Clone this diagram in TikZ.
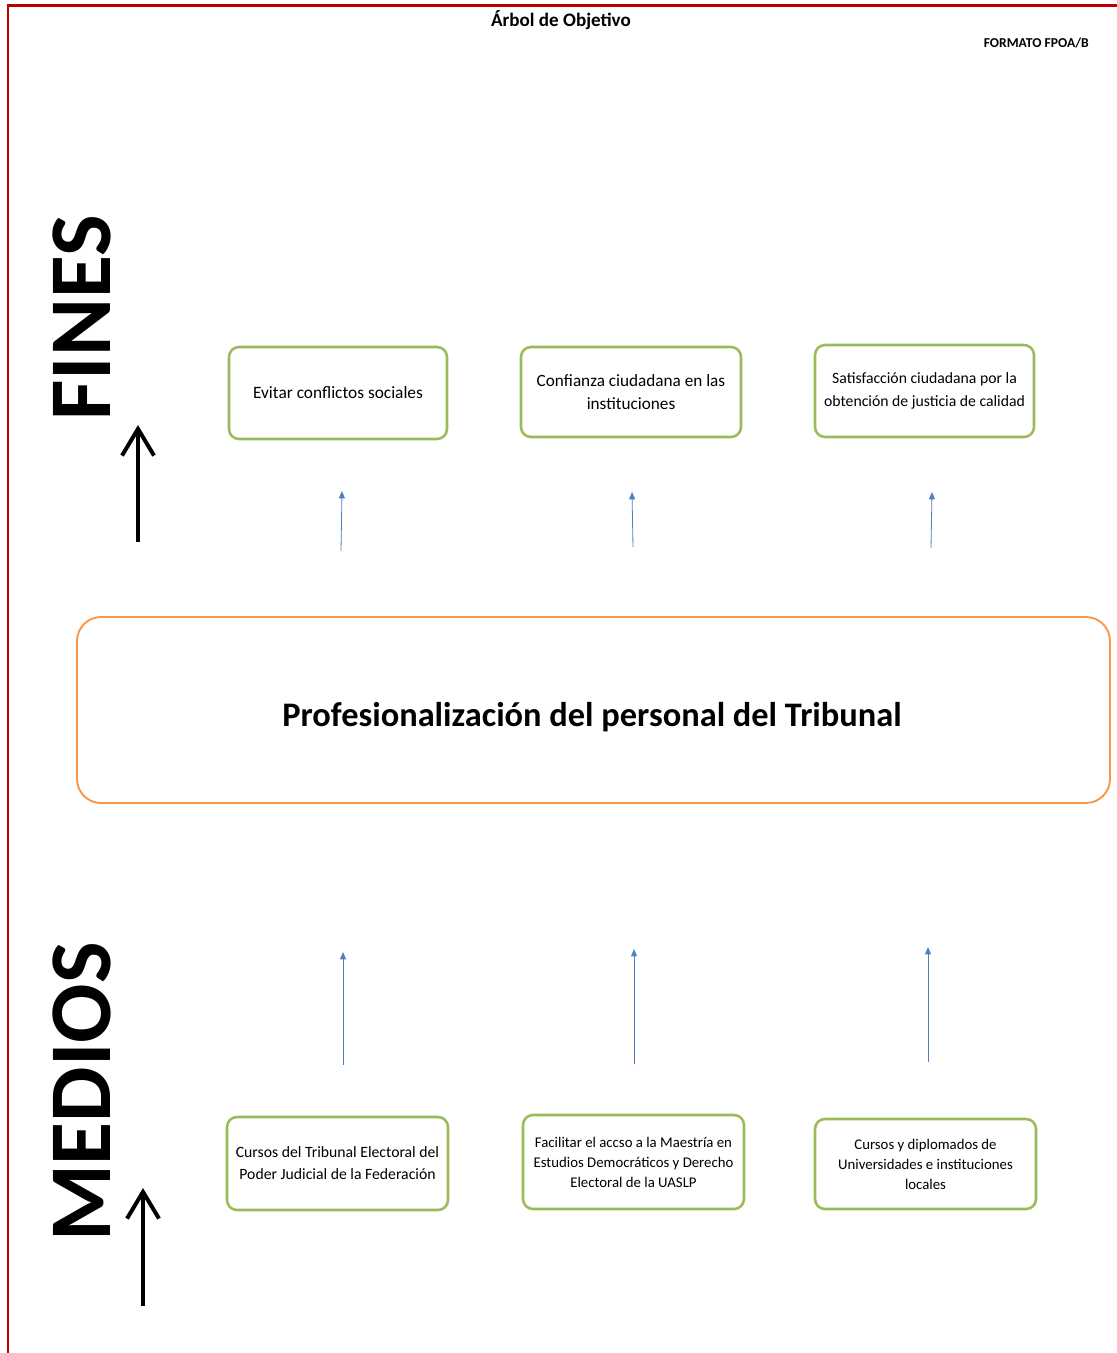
\documentclass[tikz,border=0pt]{standalone}
\usepackage{fontspec}
\setmainfont{Carlito}
\usetikzlibrary{arrows.meta}
\definecolor{redline}{HTML}{C00000}
\definecolor{boxgreen}{HTML}{9BBB59}
\definecolor{boxorange}{HTML}{F79646}
\definecolor{arrowblue}{HTML}{4F81BD}
\tikzset{
  px/.style={x=0.75pt,y=-0.75pt},
  greenbox/.style={draw=boxgreen,line width=1.9pt,rounded corners=7.5pt,fill=white,align=center,inner sep=0pt},
  orangebox/.style={draw=boxorange,line width=1.4pt,rounded corners=18pt,fill=white,align=center,inner sep=0pt},
  bluearrow/.style={draw=arrowblue,line width=0.6pt,-{Triangle[length=5.5pt,width=4.5pt]}},
  blackarrow/.style={draw=black,line width=3pt,-{Straight Barb[length=20pt,width=24pt,line width=3pt]}},
  sidelabel/.style={rotate=90,font=\fontsize{66}{70}\selectfont\bfseries,inner sep=0pt},
}
\begin{document}
\begin{tikzpicture}[px]
\useasboundingbox[fill=white] (0,0) rectangle (1117,1353);
% frame
\draw[redline,line width=2.6pt] (7,5.5) -- (1117,5.5);
\draw[redline,line width=1.5pt] (7.5,5) -- (7.5,1353);
% headings
\node[font=\fontsize{14.3}{16}\selectfont\bfseries] (title) at (561,20) {Árbol de Objetivo};
\node[font=\fontsize{10.2}{12}\selectfont\bfseries,anchor=east,inner sep=0pt] (formato) at (1089,43) {FORMATO FPOA/B};
% side labels
\node[sidelabel] (fines) at (82,318) {FINES};
\node[sidelabel] (medios) at (82,1092) {MEDIOS};
\coordinate (fa1) at (138,542); \coordinate (fa2) at (138,425);
\coordinate (ma1) at (143,1306); \coordinate (ma2) at (143,1188);
\draw[blackarrow] (fa1) -- (fa2);
\draw[blackarrow] (ma1) -- (ma2);
% fines
\node[greenbox,minimum width=218*0.75pt,minimum height=92*0.75pt,font=\fontsize{13}{17.25}\selectfont] (f1) at (338,393) {Evitar conflictos sociales};
\node[greenbox,minimum width=220*0.75pt,minimum height=90*0.75pt,font=\fontsize{12.9}{17.25}\selectfont] (f2) at (631,392) {Confianza ciudadana en las\\instituciones};
\node[greenbox,minimum width=219*0.75pt,minimum height=92*0.75pt,font=\fontsize{11.8}{17.25}\selectfont] (f3) at (924.5,391) {Satisfacción ciudadana por la\\obtención de justicia de calidad};
% central
\node[orangebox,minimum width=1033*0.75pt,minimum height=186*0.75pt] (centro) at (593.5,710) {};
\node[font=\fontsize{25.8}{30}\selectfont\bfseries,inner sep=0pt] (centrotext) at (592,717) {Profesionalización del personal del Tribunal};
% medios
\node[greenbox,minimum width=221*0.75pt,minimum height=93*0.75pt,font=\fontsize{11.8}{16.5}\selectfont] (m1) at (337.5,1163.5) {Cursos del Tribunal Electoral del\\Poder Judicial de la Federación};
\node[greenbox,minimum width=221*0.75pt,minimum height=94*0.75pt,font=\fontsize{11.1}{15}\selectfont] (m2) at (633.5,1162) {Facilitar el accso a la Maestría en\\Estudios Democráticos y Derecho\\Electoral de la UASLP};
\node[greenbox,minimum width=221*0.75pt,minimum height=90*0.75pt,font=\fontsize{11.1}{15}\selectfont] (m3) at (925.5,1164) {Cursos y diplomados de\\Universidades e instituciones\\locales};
% blue arrows
\coordinate (b1s) at (341,551); \coordinate (b1e) at (342,491);
\coordinate (b2s) at (633,547); \coordinate (b2e) at (632,492);
\coordinate (b3s) at (931,548); \coordinate (b3e) at (932,492);
\coordinate (b4s) at (343,1065); \coordinate (b4e) at (343,952);
\coordinate (b5s) at (634,1064); \coordinate (b5e) at (634,949);
\coordinate (b6s) at (928,1062); \coordinate (b6e) at (928,947);
\foreach \a in {1,...,6} {\draw[bluearrow] (b\a s) -- (b\a e);}
\end{tikzpicture}
\end{document}
